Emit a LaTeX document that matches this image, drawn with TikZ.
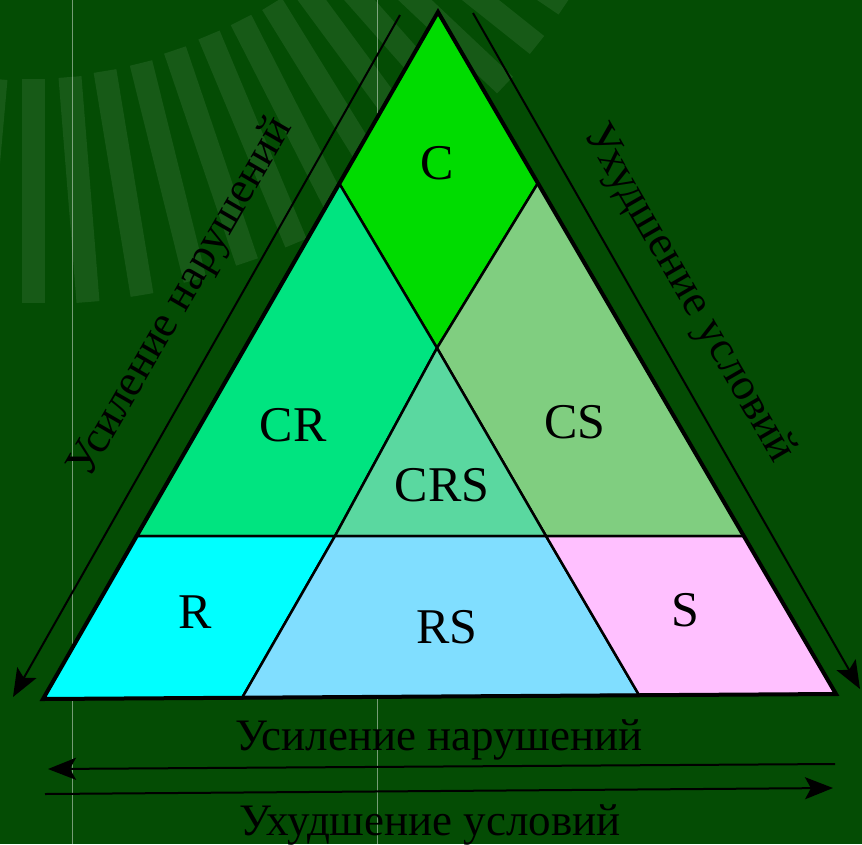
\documentclass[tikz,border=0pt]{standalone}
\usepackage{fontspec}
\setmainfont{Liberation Serif}
\usetikzlibrary{arrows.meta}

\definecolor{bggreen}{RGB}{4,76,4}
\definecolor{colC}{RGB}{0,220,0}
\definecolor{colCR}{RGB}{0,228,128}
\definecolor{colCS}{RGB}{128,206,128}
\definecolor{colCRS}{RGB}{90,216,160}
\definecolor{colR}{RGB}{0,255,255}
\definecolor{colRS}{RGB}{128,222,255}
\definecolor{colS}{RGB}{255,192,255}

\tikzset{
  region/.style={draw=black,line width=2.5pt,line join=round},
  lbl/.style={font=\fontsize{50}{60}\selectfont},
  axislbl/.style={font=\fontsize{45}{54}\selectfont},
  arr/.style={line width=2pt,-{Stealth[length=28pt,width=22pt,inset=6pt]}}
}

\begin{document}
\begin{tikzpicture}[x=1pt,y=-1pt]
        \fill[bggreen] (0,0) rectangle (862,844);
        \useasboundingbox (0,0) rectangle (862,844);
        \begin{scope}
        \clip (0,0) rectangle (862,844);
        \foreach \tx/\ty/\bx/\by in {-4/79/-24/303,33/79/33/303,70/77/88/302,105/71/142/295,
            141/63/195/280,175/50/247/262,209/35/296/243,241/20/343/220,272/4/388/192,
            303/-12/430/160,333/-30/470/125,362/-50/505/85,390/-72/537/45,416/-96/565/5}
        \draw[white,opacity=0.08,line width=23pt] (\tx,\ty) -- (\bx,\by);
        \end{scope}
        \foreach \x in {72.5,377.5}
        \draw[white,opacity=0.45,line width=0.8pt] (\x,0) -- (\x,844);

        \coordinate (A) at (438,12);
        \coordinate (B) at (43,699);
        \coordinate (Cr) at (836,694);
        \coordinate (L1) at (339,183);
        \coordinate (R1) at (538,183);
        \coordinate (M) at (437,348);
        \coordinate (L2) at (136,536);
        \coordinate (R2) at (744,536);
        \coordinate (P) at (335,536);
        \coordinate (Q) at (546,536);
        \coordinate (B1) at (242,698);
        \coordinate (B2) at (639,695);

        \filldraw[region,fill=colC] (A) -- (L1) -- (M) -- (R1) -- cycle;
        \filldraw[region,fill=colCR] (L1) -- (L2) -- (P) -- (M) -- cycle;
        \filldraw[region,fill=colCS] (R1) -- (M) -- (Q) -- (R2) -- cycle;
        \filldraw[region,fill=colCRS] (M) -- (P) -- (Q) -- cycle;
        \filldraw[region,fill=colR] (L2) -- (B) -- (B1) -- (P) -- cycle;
        \filldraw[region,fill=colRS] (P) -- (B1) -- (B2) -- (Q) -- cycle;
        \filldraw[region,fill=colS] (Q) -- (B2) -- (Cr) -- (R2) -- cycle;
        \draw[line width=4pt] (A) -- (B) -- (Cr) -- cycle;

        \node[lbl] (nC) at (437,163) {C};
        \node[lbl] (nCR) at (293,425) {CR};
        \node[lbl] (nCS) at (575,422) {CS};
        \node[lbl] (nCRS) at (442,485) {CRS};
        \node[lbl] (nR) at (195,612) {R};
        \node[lbl] (nRS) at (447,627) {RS};
        \node[lbl] (nS) at (685,610) {S};

        \coordinate (lt) at (400,15);
        \coordinate (lb) at (13,697);
        \coordinate (rt) at (473,13);
        \coordinate (rb) at (860,689);
        \draw[arr] (lt) -- (lb);
        \draw[arr] (rt) -- (rb);
        \node[axislbl,rotate=60,anchor=base] (leftlbl) at (191,303) {Усиление нарушений};
        \node[axislbl,rotate=-60,anchor=base] (rightlbl) at (679,299) {Ухудшение условий};

        \coordinate (u1) at (835,764);
        \coordinate (u2) at (48,769);
        \coordinate (d1) at (45,794);
        \coordinate (d2) at (833,788);
        \draw[arr] (u1) -- (u2);
        \draw[arr] (d1) -- (d2);
        \node[axislbl,anchor=base] (toplbl) at (439,750) {Усиление нарушений};
        \node[axislbl,anchor=base] (botlbl) at (430,835) {Ухудшение условий};
\end{tikzpicture}
\end{document}
